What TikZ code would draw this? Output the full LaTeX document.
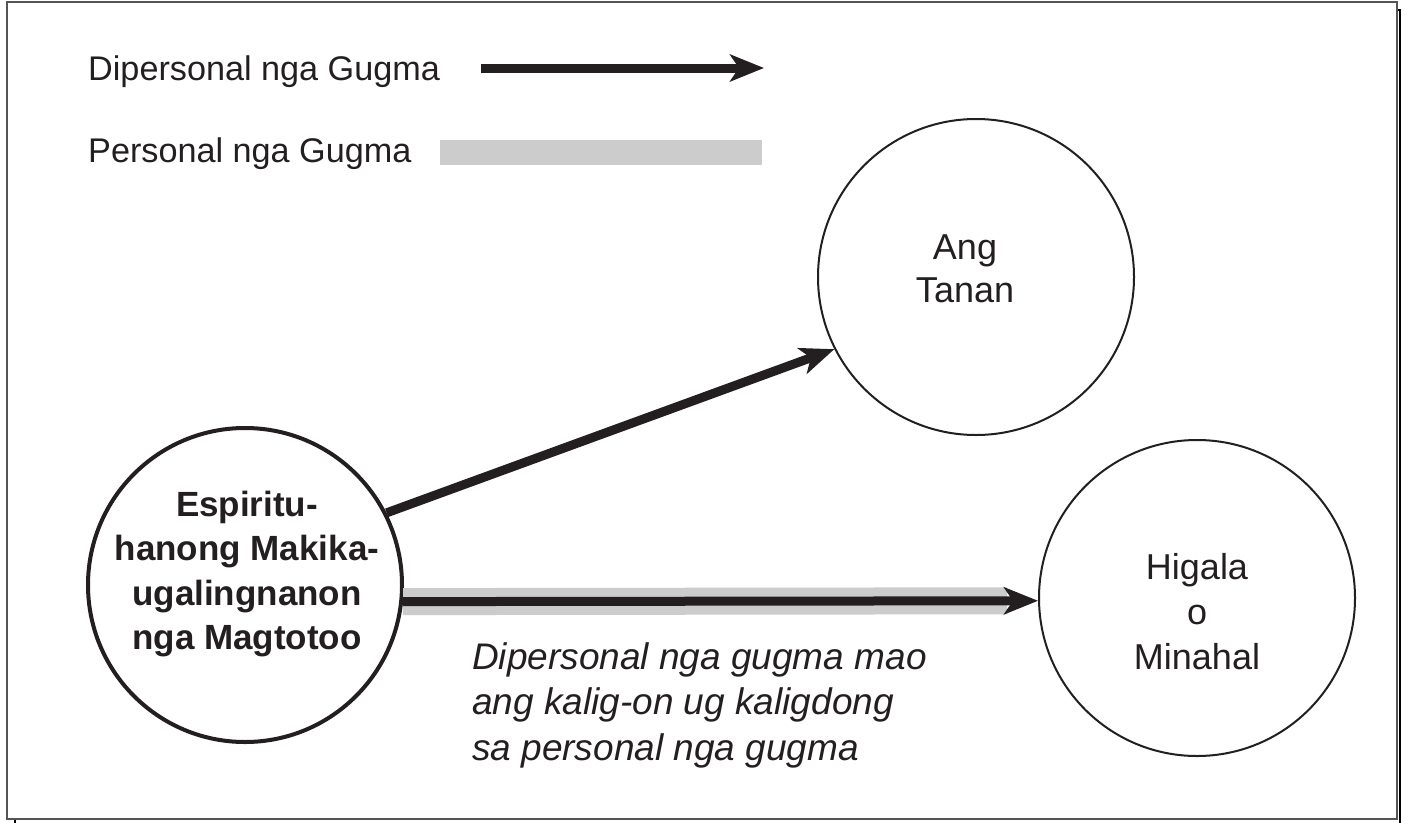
\documentclass[tikz,border=0pt]{standalone}
\usepackage{fontspec}
\setmainfont{Liberation Sans}
\usetikzlibrary{arrows.meta, positioning, calc}
\definecolor{inkblack}{HTML}{231F20}
\definecolor{lovegray}{HTML}{CCCCCC}
\definecolor{framegray}{HTML}{555555}

\begin{document}
\begin{tikzpicture}[
      x=1pt, y=-1pt,
      bubble/.style={circle, draw=inkblack, line width=2pt, minimum size=316pt, inner sep=0pt},
      seeker/.style={bubble, line width=4pt, minimum size=314pt},
      bubbletext/.style={font=\fontsize{36}{44}\selectfont, align=center, text=inkblack},
      seekertext/.style={bubbletext, font=\fontsize{35}{44.3}\selectfont\bfseries},
      legend/.style={font=\fontsize{34.2}{40}\selectfont, text=inkblack, anchor=west, inner sep=0pt},
      note/.style={font=\fontsize{37}{45.5}\selectfont\itshape, align=left, anchor=west, inner sep=0pt, text=inkblack},
      impersonal/.style={draw=inkblack, line width=9pt, -{Stealth[length=34pt, width=27pt, inset=9pt]}},
      personal/.style={draw=lovegray, line width=27pt}
   ]
      \useasboundingbox (0,0) rectangle (1405,822);

      % Page frame with its shadow
      \draw[black, line width=1.2pt] (15,10) rectangle (1400,830);
      \draw[framegray, line width=1.5pt, fill=white] (7,2) rectangle (1397,819);

      % Legend
      \node[legend] (dipleg) at (88,72) {Dipersonal nga Gugma};
      \node[legend] (perleg) at (88,154) {Personal nga Gugma};
      \coordinate (dipstart) at (481,68);
      \coordinate (dipend) at (764,68);
      \coordinate (perstart) at (440,152.5);
      \coordinate (perend) at (762,152.5);
      \draw[impersonal] (dipstart) -- (dipend);
      \draw[personal, line width=25pt] (perstart) -- (perend);

      % Circles
      \node[seeker] (seeker) at (245,585) {};
      \node[bubble] (tanan) at (976,277) {};
      \node[bubble] (higala) at (1197,598) {};

      % Texts inside the circles
      \node[seekertext] (seekerlbl) at (247,574) {Espiritu-\\hanong Makika-\\ugalingnanon\\nga Magtotoo};
      \node[bubbletext, font=\fontsize{36}{43}\selectfont] (tananlbl) at (965,269) {Ang\\Tanan};
      \node[bubbletext, font=\fontsize{36}{45}\selectfont] (higalalbl) at (1197,612) {Higala\\o\\Minahal};

      % Arrows between the circles
      \draw[personal, shorten >=31pt] (seeker.-6.6) -- (higala.181.8);
      \draw[impersonal] (seeker.-6.6) -- (higala.181.8);
      \draw[impersonal] (seeker.27.5) -- (tanan.207.5);

      % Note under the arrow
      \node[note] (notetext) at (472,705) {Dipersonal nga gugma mao\\ang kalig-on ug kaligdong\\sa personal nga gugma};
\end{tikzpicture}
\end{document}
